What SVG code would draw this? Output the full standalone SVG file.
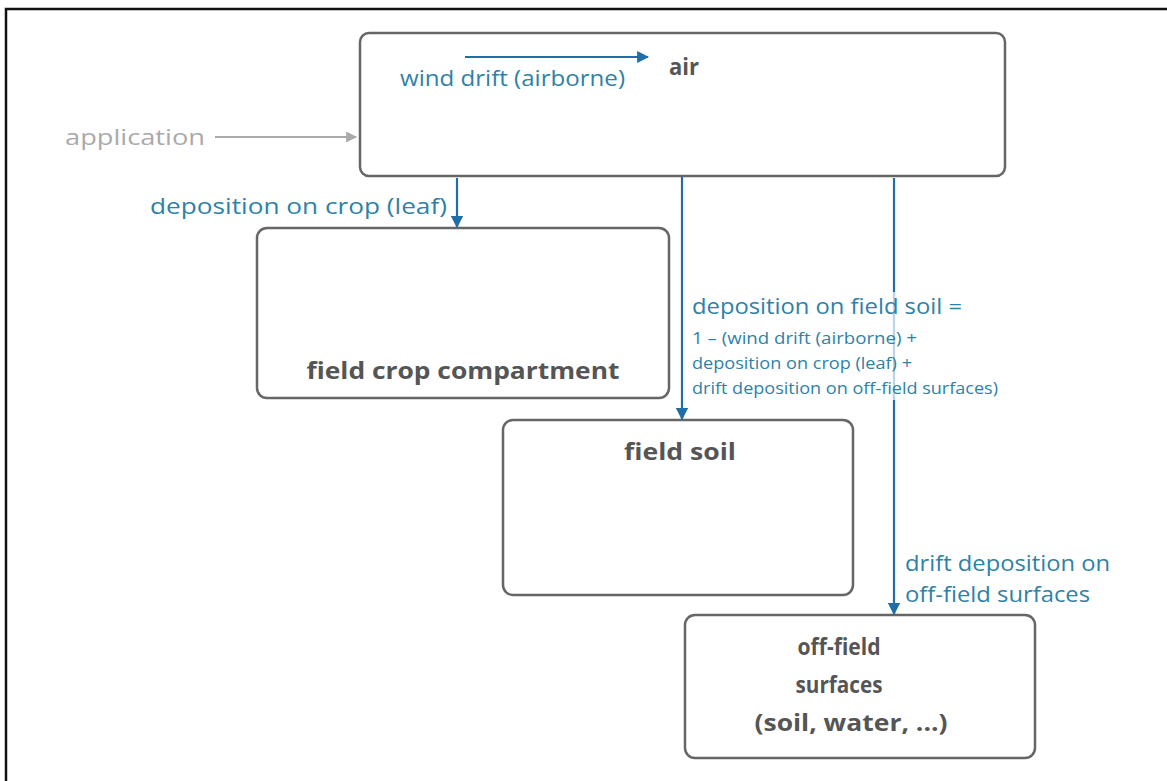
<svg xmlns="http://www.w3.org/2000/svg" width="1167" height="781" viewBox="0 0 1167 781">
<defs>
<marker id="ab" viewBox="0 0 10 10" refX="9" refY="5" markerWidth="5.5" markerHeight="5.5" orient="auto" markerUnits="strokeWidth"><path d="M0,0 L10,5 L0,10 z" fill="#1f6ea8"/></marker>
<marker id="ag" viewBox="0 0 10 10" refX="9" refY="5" markerWidth="6.5" markerHeight="5.5" orient="auto" markerUnits="strokeWidth"><path d="M0,0 L10,5 L0,10 z" fill="#aaaaaa"/></marker>
<style>
.box{fill:#fff;stroke:#666;stroke-width:2.5}
.bt{font-family:"Open Sans","Noto Sans",sans-serif;font-weight:bold;font-size:23px;fill:#555;text-anchor:middle}
.lt{font-family:"Open Sans","Noto Sans",sans-serif;font-size:21px;fill:#2e82a6}
.st{font-family:"Open Sans","Noto Sans",sans-serif;font-size:17px;fill:#2e82a6}
.bl{stroke:#1f6ea8;stroke-width:2.2;fill:none;marker-end:url(#ab)}
</style>
</defs>
<rect width="1167" height="781" fill="#fff"/>
<path d="M6,781 V9 H1167" fill="none" stroke="#111" stroke-width="2.5"/>

<g id="air">
<rect class="box" x="360" y="33" width="645" height="143" rx="9"/>
<text class="bt" x="684" y="75" textLength="30" lengthAdjust="spacingAndGlyphs">air</text>
</g>
<g id="field-crop">
<rect class="box" x="257" y="228" width="412" height="170" rx="10"/>
<text class="bt" x="463" y="379" textLength="313" lengthAdjust="spacingAndGlyphs">field crop compartment</text>
</g>
<g id="field-soil">
<rect class="box" x="503" y="420" width="350" height="175" rx="10"/>
<text class="bt" x="680" y="460" textLength="112" lengthAdjust="spacingAndGlyphs">field soil</text>
</g>
<g id="off-field">
<rect class="box" x="685" y="615" width="350" height="143" rx="10"/>
<text class="bt" x="839" y="655" textLength="83" lengthAdjust="spacingAndGlyphs">off-field</text>
<text class="bt" x="839" y="693" textLength="87" lengthAdjust="spacingAndGlyphs">surfaces</text>
<text class="bt" x="851" y="731" textLength="193" lengthAdjust="spacingAndGlyphs">(soil, water, ...)</text>
</g>

<g id="connectors">
<line x1="215" y1="137" x2="356" y2="137" stroke="#aaaaaa" stroke-width="2" marker-end="url(#ag)"/>
<line class="bl" x1="465" y1="57" x2="648" y2="57"/>
<line class="bl" x1="457" y1="178" x2="457" y2="227"/>
<line class="bl" x1="682" y1="177" x2="682" y2="419"/>
<line class="bl" x1="894" y1="178" x2="894" y2="614"/>
</g>

<g id="labels">
<text x="65" y="145" font-family="'Open Sans','Noto Sans',sans-serif" font-size="22" fill="#aaaaaa" textLength="140" lengthAdjust="spacingAndGlyphs">application</text>
<text class="lt" x="400" y="86" textLength="225" lengthAdjust="spacingAndGlyphs">wind drift (airborne)</text>
<text class="lt" x="150" y="214" textLength="297" lengthAdjust="spacingAndGlyphs">deposition on crop (leaf)</text>
<rect x="690" y="292" width="312" height="108" fill="#fff" opacity="0.7"/>
<text class="lt" x="692" y="314" font-size="22" textLength="270" lengthAdjust="spacingAndGlyphs">deposition on field soil =</text>
<text class="st" x="692" y="344" textLength="225" lengthAdjust="spacingAndGlyphs">1 – (wind drift (airborne) +</text>
<text class="st" x="692" y="369" textLength="220" lengthAdjust="spacingAndGlyphs">deposition on crop (leaf) +</text>
<text class="st" x="692" y="394" textLength="306" lengthAdjust="spacingAndGlyphs">drift deposition on off-field surfaces)</text>
<text class="lt" x="905" y="571" textLength="205" lengthAdjust="spacingAndGlyphs">drift deposition on</text>
<text class="lt" x="905" y="602" textLength="185" lengthAdjust="spacingAndGlyphs">off-field surfaces</text>
</g>
</svg>
